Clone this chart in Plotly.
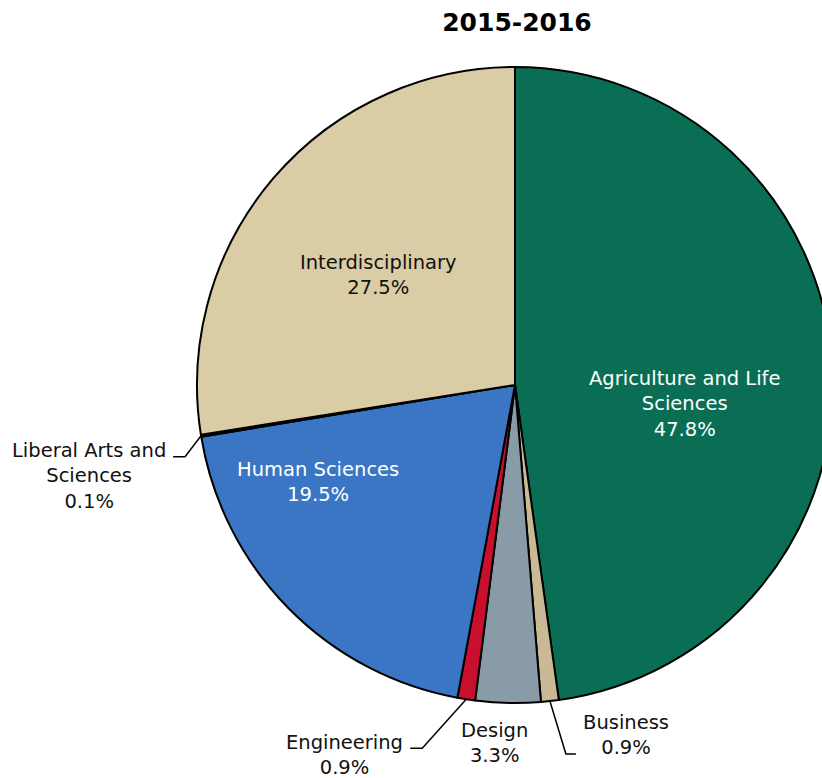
import math
import plotly.graph_objects as go

# ---------------- data ----------------
categories = ["Agriculture and Life Sciences", "Business", "Design", "Engineering",
              "Human Sciences", "Liberal Arts and Sciences", "Interdisciplinary"]
shares = [47.8, 0.9, 3.3, 0.9, 19.5, 0.1, 27.5]
label_lines = ["Agriculture and Life<br>Sciences", "Business", "Design", "Engineering",
               "Human Sciences", "Liberal Arts and<br>Sciences", "Interdisciplinary"]
title_text = "2015-2016"

# ---------------- styles ----------------
slice_colors = ["#0A6E55", "#C9B995", "#8A9BA8", "#C8102E", "#3B76C5", "#7F8C96", "#DACCA4"]
label_font_colors = ["white", "#111111", "#111111", "#111111", "white", "#111111", "#111111"]
# label block centres (pixels)
label_pos = [(684, 404), (626, 735), (494, 743), (344, 755), (318, 482), (89, 476), (378, 275)]
# leader elbows relative to slice anchor on the rim (pixels): (dx1, dy1, dx2, dy2)
leaders = {"Business": (16, 53, 26, 53),
           "Engineering": (-44, 49, -56, 49),
           "Liberal Arts and Sciences": (-16, 21, -28, 21)}

FONT = "DejaVu Sans"
W, H = 834, 778
L, R, T, B = 197, 1, 67, 75
PW, PH = W - L - R, H - T - B
CX, CY = L + PW / 2, T + PH / 2
RAD = min(PW, PH) / 2


def px(x):
    return (x - L) / PW


def py(y):
    return 1 - (y - T) / PH


fig = go.Figure(go.Pie(
    labels=categories, values=shares, sort=False, direction="clockwise", rotation=0,
    marker=dict(colors=slice_colors, line=dict(color="black", width=2)),
    textinfo="none", hoverinfo="label+percent", showlegend=False,
    domain=dict(x=[0, 1], y=[0, 1]),
))

annotations = []
shapes = []
total = sum(shares)
cum = 0.0
for cat, val, txt, (lx, ly), fc in zip(categories, shares, label_lines, label_pos, label_font_colors):
    annotations.append(dict(
        x=px(lx), y=py(ly), xref="paper", yref="paper", showarrow=False,
        text=f"{txt}<br>{val:.1f}%", xanchor="center", yanchor="middle", align="center",
        font=dict(family=FONT, size=19.5, color=fc)))
    if cat in leaders:
        a = 2 * math.pi * (cum + val / 2) / total
        ax = CX + RAD * math.sin(a)
        ay = CY - RAD * math.cos(a)
        dx1, dy1, dx2, dy2 = leaders[cat]
        path = (f"M {px(ax)} {py(ay)} L {px(ax + dx1)} {py(ay + dy1)} "
                f"L {px(ax + dx2)} {py(ay + dy2)}")
        shapes.append(dict(type="path", path=path, xref="paper", yref="paper",
                           line=dict(color="black", width=1.5)))
    cum += val

fig.update_layout(
    width=W, height=H, autosize=False,
    margin=dict(l=L, r=R, t=T, b=B, pad=0),
    paper_bgcolor="white", plot_bgcolor="white",
    title=dict(text=f"<b>{title_text}</b>", x=px(517), xref="paper", xanchor="center",
               y=1 - 22 / H, yref="container", yanchor="middle",
               font=dict(family=FONT, size=25, color="black")),
    annotations=annotations, shapes=shapes,
)

fig.write_html("out.html",
               config={"displayModeBar": False},
               post_script="document.body.style.margin='0';"
                           "document.body.style.overflow='hidden';"
                           "document.documentElement.style.overflow='hidden';")
